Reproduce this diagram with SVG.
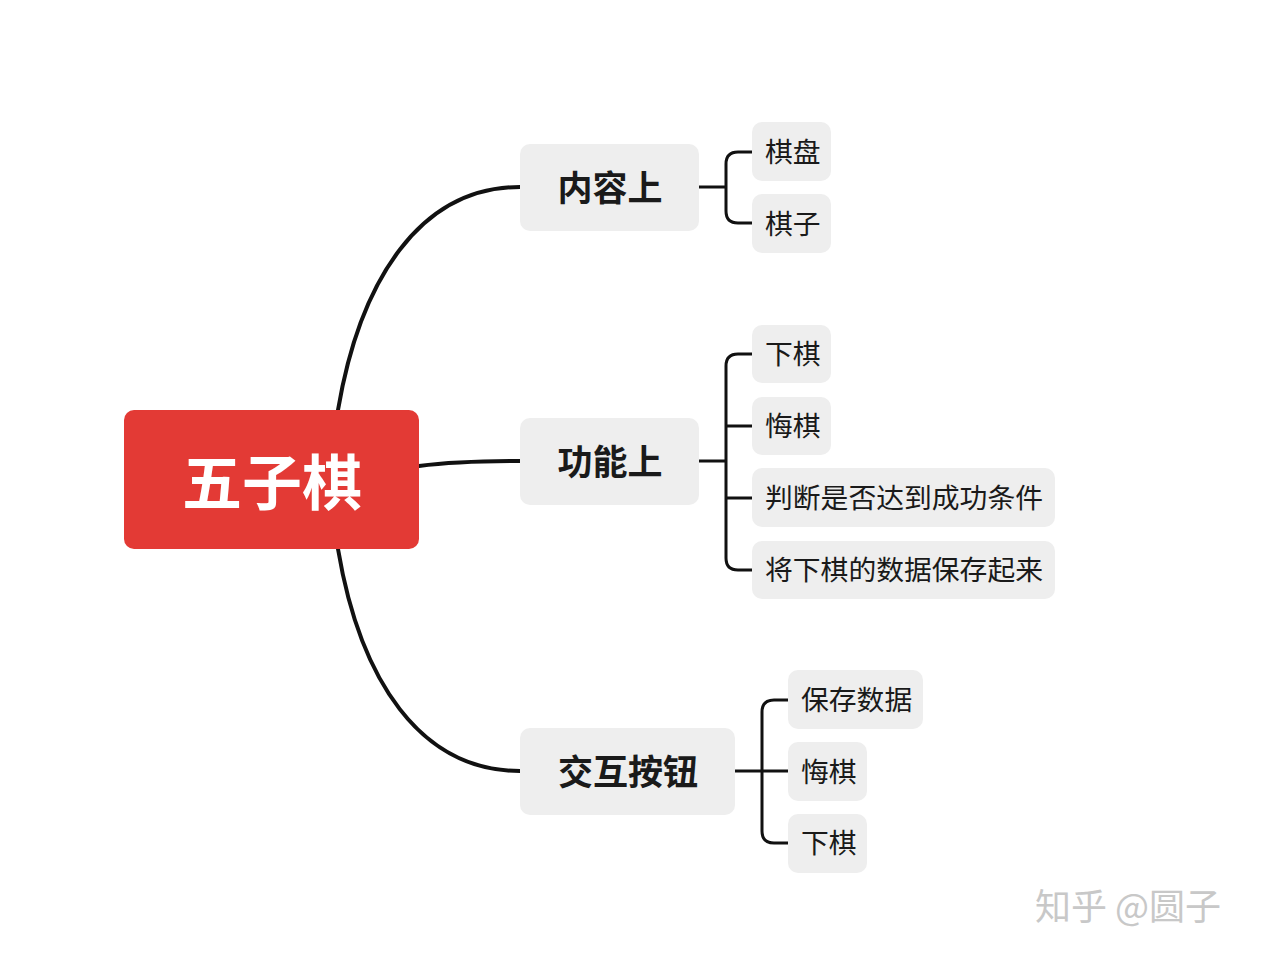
<svg xmlns="http://www.w3.org/2000/svg" width="1268" height="956" viewBox="0 0 1268 956">
<style>
.n{fill:#eeeeee}
.t1{font-family:"Noto Sans CJK SC",sans-serif;font-size:35px;font-weight:bold;fill:#1a1a1a;text-anchor:middle;dominant-baseline:central}
.t2{font-family:"Noto Sans CJK SC",sans-serif;font-size:27.8px;fill:#1a1a1a;dominant-baseline:central}
.c{fill:none;stroke:#111;stroke-width:4;stroke-linecap:round}
.b{fill:none;stroke:#111;stroke-width:3}
</style>
<rect width="1268" height="956" fill="#fff"/>
<g id="connectors">
<path class="c" d="M338,410 C360,280 420,187 520,187"/>
<path class="c" d="M419,466 C450,462 480,461 520,461"/>
<path class="c" d="M338,549 C360,680 420,771 520,771"/>
<path class="b" d="M699,187 H726 M752,152 H738 Q726,152 726,164 V211 Q726,223 738,223 H752"/>
<path class="b" d="M699,461 H726 M752,354 H738 Q726,354 726,366 V558 Q726,570 738,570 H752 M726,426 H752 M726,498 H752"/>
<path class="b" d="M735,771 H788 M788,700 H774 Q762,700 762,712 V831 Q762,843 774,843 H788"/>
</g>
<g id="root"><rect x="124" y="410" width="295" height="139" rx="10" fill="#e33a35"/>
<text x="272" y="478" font-family="'Noto Sans CJK SC',sans-serif" font-size="60" font-weight="bold" fill="#fff" text-anchor="middle" dominant-baseline="central">五子棋</text></g>
<g id="n1"><rect class="n" x="520" y="144" width="179" height="87" rx="10"/><text class="t1" x="610" y="185">内容上</text></g>
<g id="n2"><rect class="n" x="520" y="418" width="179" height="87" rx="10"/><text class="t1" x="610" y="459">功能上</text></g>
<g id="n3"><rect class="n" x="520" y="728" width="215" height="87" rx="10"/><text class="t1" x="628" y="769">交互按钮</text></g>
<g id="l1"><rect class="n" x="752" y="122" width="79" height="59" rx="10"/><text class="t2" x="765" y="150">棋盘</text></g>
<g id="l2"><rect class="n" x="752" y="194" width="79" height="59" rx="10"/><text class="t2" x="765" y="222">棋子</text></g>
<g id="l3"><rect class="n" x="752" y="325" width="79" height="58" rx="10"/><text class="t2" x="765" y="352">下棋</text></g>
<g id="l4"><rect class="n" x="752" y="397" width="79" height="58" rx="10"/><text class="t2" x="765" y="424">悔棋</text></g>
<g id="l5"><rect class="n" x="752" y="468" width="303" height="59" rx="10"/><text class="t2" x="765" y="496">判断是否达到成功条件</text></g>
<g id="l6"><rect class="n" x="752" y="541" width="303" height="58" rx="10"/><text class="t2" x="765" y="568">将下棋的数据保存起来</text></g>
<g id="l7"><rect class="n" x="788" y="670" width="135" height="59" rx="10"/><text class="t2" x="801" y="698">保存数据</text></g>
<g id="l8"><rect class="n" x="788" y="742" width="79" height="59" rx="10"/><text class="t2" x="801" y="770">悔棋</text></g>
<g id="l9"><rect class="n" x="788" y="814" width="79" height="59" rx="10"/><text class="t2" x="801" y="841">下棋</text></g>
<text x="1035" y="904" font-family="'Noto Sans CJK SC',sans-serif" font-size="36" fill="#c8c8c8" dominant-baseline="central">知乎 @圆子</text>
</svg>
